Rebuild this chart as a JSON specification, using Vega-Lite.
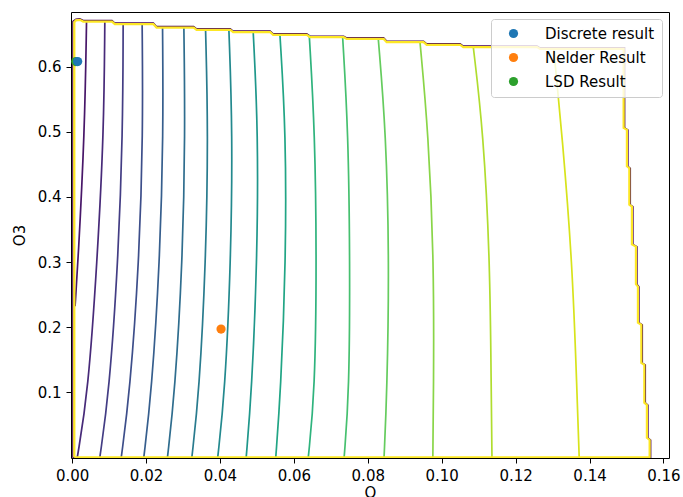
{
  "$schema": "https://vega.github.io/schema/vega-lite/v6.json",
  "width": 598,
  "height": 446,
  "autosize": {"type": "none"},
  "padding": {"left": 71, "top": 12, "right": 14, "bottom": 39},
  "config": {
    "font": "DejaVu Sans",
    "view": {"stroke": "#000000", "strokeWidth": 1},
    "axis": {"grid": false, "domain": false, "tickColor": "#000000", "tickSize": 5, "tickWidth": 1, "labelColor": "#000000", "labelFontSize": 15, "labelPadding": 5, "titleFontSize": 15, "titleFontWeight": "normal", "titleColor": "#000000"},
    "legend": {"orient": "top-right", "offset": 7, "padding": 7, "fillColor": "rgba(255,255,255,0.8)", "strokeColor": "#cccccc", "cornerRadius": 3, "labelFontSize": 15, "labelColor": "#000000", "symbolSize": 85, "symbolType": "circle", "symbolOffset": 8, "labelOffset": 24, "rowPadding": 8, "symbolStrokeWidth": 0}
  },
  "datasets": {
    "contours": [
      {"path": "c1", "level": 1, "i": 0, "x": 0.0008, "y": 0.232},
      {"path": "c1", "level": 1, "i": 1, "x": 0.0016, "y": 0.3},
      {"path": "c1", "level": 1, "i": 2, "x": 0.0034, "y": 0.5},
      {"path": "c1", "level": 1, "i": 3, "x": 0.0039, "y": 0.6693},
      {"path": "c2", "level": 2, "i": 0, "x": 0.0014, "y": 0},
      {"path": "c2", "level": 2, "i": 1, "x": 0.00433, "y": 0.1},
      {"path": "c2", "level": 2, "i": 2, "x": 0.00677, "y": 0.3},
      {"path": "c2", "level": 2, "i": 3, "x": 0.0086, "y": 0.5},
      {"path": "c2", "level": 2, "i": 4, "x": 0.00885, "y": 0.6693},
      {"path": "c3", "level": 3, "i": 0, "x": 0.0075, "y": 0},
      {"path": "c3", "level": 3, "i": 1, "x": 0.01002, "y": 0.1},
      {"path": "c3", "level": 3, "i": 2, "x": 0.01245, "y": 0.3},
      {"path": "c3", "level": 3, "i": 3, "x": 0.01372, "y": 0.5},
      {"path": "c3", "level": 3, "i": 4, "x": 0.01381, "y": 0.6653},
      {"path": "c4", "level": 4, "i": 0, "x": 0.0133, "y": 0},
      {"path": "c4", "level": 4, "i": 1, "x": 0.01562, "y": 0.1},
      {"path": "c4", "level": 4, "i": 2, "x": 0.01814, "y": 0.3},
      {"path": "c4", "level": 4, "i": 3, "x": 0.0192, "y": 0.5},
      {"path": "c4", "level": 4, "i": 4, "x": 0.01895, "y": 0.6653},
      {"path": "c5", "level": 5, "i": 0, "x": 0.0194, "y": 0},
      {"path": "c5", "level": 5, "i": 1, "x": 0.02149, "y": 0.1},
      {"path": "c5", "level": 5, "i": 2, "x": 0.02374, "y": 0.3},
      {"path": "c5", "level": 5, "i": 3, "x": 0.0247, "y": 0.5},
      {"path": "c5", "level": 5, "i": 4, "x": 0.02447, "y": 0.6601},
      {"path": "c6", "level": 6, "i": 0, "x": 0.0258, "y": 0},
      {"path": "c6", "level": 6, "i": 1, "x": 0.0278, "y": 0.1},
      {"path": "c6", "level": 6, "i": 2, "x": 0.02989, "y": 0.3},
      {"path": "c6", "level": 6, "i": 3, "x": 0.0306, "y": 0.5},
      {"path": "c6", "level": 6, "i": 4, "x": 0.03024, "y": 0.6601},
      {"path": "c7", "level": 7, "i": 0, "x": 0.0324, "y": 0},
      {"path": "c7", "level": 7, "i": 1, "x": 0.03438, "y": 0.1},
      {"path": "c7", "level": 7, "i": 2, "x": 0.03619, "y": 0.3},
      {"path": "c7", "level": 7, "i": 3, "x": 0.03682, "y": 0.5},
      {"path": "c7", "level": 7, "i": 4, "x": 0.03611, "y": 0.6565},
      {"path": "c8", "level": 8, "i": 0, "x": 0.0394, "y": 0},
      {"path": "c8", "level": 8, "i": 1, "x": 0.04134, "y": 0.1},
      {"path": "c8", "level": 8, "i": 2, "x": 0.04296, "y": 0.3},
      {"path": "c8", "level": 8, "i": 3, "x": 0.04342, "y": 0.5},
      {"path": "c8", "level": 8, "i": 4, "x": 0.04242, "y": 0.6565},
      {"path": "c9", "level": 9, "i": 0, "x": 0.0471, "y": 0},
      {"path": "c9", "level": 9, "i": 1, "x": 0.04857, "y": 0.1},
      {"path": "c9", "level": 9, "i": 2, "x": 0.05008, "y": 0.3},
      {"path": "c9", "level": 9, "i": 3, "x": 0.05035, "y": 0.5},
      {"path": "c9", "level": 9, "i": 4, "x": 0.049, "y": 0.653},
      {"path": "c10", "level": 10, "i": 0, "x": 0.0551, "y": 0},
      {"path": "c10", "level": 10, "i": 1, "x": 0.05642, "y": 0.1},
      {"path": "c10", "level": 10, "i": 2, "x": 0.05785, "y": 0.3},
      {"path": "c10", "level": 10, "i": 3, "x": 0.05785, "y": 0.5},
      {"path": "c10", "level": 10, "i": 4, "x": 0.05623, "y": 0.6488},
      {"path": "c11", "level": 11, "i": 0, "x": 0.0639, "y": 0},
      {"path": "c11", "level": 11, "i": 1, "x": 0.0657, "y": 0.1},
      {"path": "c11", "level": 11, "i": 2, "x": 0.06616, "y": 0.3},
      {"path": "c11", "level": 11, "i": 3, "x": 0.0657, "y": 0.5},
      {"path": "c11", "level": 11, "i": 4, "x": 0.06416, "y": 0.6488},
      {"path": "c12", "level": 12, "i": 0, "x": 0.0736, "y": 0},
      {"path": "c12", "level": 12, "i": 1, "x": 0.07499, "y": 0.1},
      {"path": "c12", "level": 12, "i": 2, "x": 0.07518, "y": 0.3},
      {"path": "c12", "level": 12, "i": 3, "x": 0.07472, "y": 0.5},
      {"path": "c12", "level": 12, "i": 4, "x": 0.0732, "y": 0.6453},
      {"path": "c13", "level": 13, "i": 0, "x": 0.0844, "y": 0},
      {"path": "c13", "level": 13, "i": 1, "x": 0.0852, "y": 0.1},
      {"path": "c13", "level": 13, "i": 2, "x": 0.08582, "y": 0.3},
      {"path": "c13", "level": 13, "i": 3, "x": 0.08492, "y": 0.5},
      {"path": "c13", "level": 13, "i": 4, "x": 0.08284, "y": 0.6427},
      {"path": "c14", "level": 14, "i": 0, "x": 0.0976, "y": 0},
      {"path": "c14", "level": 14, "i": 1, "x": 0.0978, "y": 0.1},
      {"path": "c14", "level": 14, "i": 2, "x": 0.09792, "y": 0.3},
      {"path": "c14", "level": 14, "i": 3, "x": 0.09637, "y": 0.5},
      {"path": "c14", "level": 14, "i": 4, "x": 0.09413, "y": 0.6376},
      {"path": "c15", "level": 15, "i": 0, "x": 0.1136, "y": 0},
      {"path": "c15", "level": 15, "i": 1, "x": 0.1134, "y": 0.1},
      {"path": "c15", "level": 15, "i": 2, "x": 0.11308, "y": 0.3},
      {"path": "c15", "level": 15, "i": 3, "x": 0.11126, "y": 0.5},
      {"path": "c15", "level": 15, "i": 4, "x": 0.10855, "y": 0.63},
      {"path": "c16", "level": 16, "i": 0, "x": 0.1372, "y": 0},
      {"path": "c16", "level": 16, "i": 1, "x": 0.1366, "y": 0.1},
      {"path": "c16", "level": 16, "i": 2, "x": 0.13536, "y": 0.3},
      {"path": "c16", "level": 16, "i": 3, "x": 0.13249, "y": 0.5},
      {"path": "c16", "level": 16, "i": 4, "x": 0.1311, "y": 0.58},
      {"path": "c16", "level": 16, "i": 5, "x": 0.1303, "y": 0.6273}
    ],
    "boundary": [
      {"path": "b0", "level": 0, "i": 0, "x": 0.0002, "y": -0.0008},
      {"path": "b0", "level": 0, "i": 1, "x": 0.15656, "y": -0.0008},
      {"path": "b0", "level": 0, "i": 2, "x": 0.15656, "y": 0.0267},
      {"path": "b0", "level": 0, "i": 3, "x": 0.15582, "y": 0.03},
      {"path": "b0", "level": 0, "i": 4, "x": 0.15582, "y": 0.0805},
      {"path": "b0", "level": 0, "i": 5, "x": 0.15512, "y": 0.084},
      {"path": "b0", "level": 0, "i": 6, "x": 0.15512, "y": 0.1419},
      {"path": "b0", "level": 0, "i": 7, "x": 0.15431, "y": 0.145},
      {"path": "b0", "level": 0, "i": 8, "x": 0.15431, "y": 0.2034},
      {"path": "b0", "level": 0, "i": 9, "x": 0.15339, "y": 0.207},
      {"path": "b0", "level": 0, "i": 10, "x": 0.15339, "y": 0.2622},
      {"path": "b0", "level": 0, "i": 11, "x": 0.15285, "y": 0.266},
      {"path": "b0", "level": 0, "i": 12, "x": 0.15285, "y": 0.3237},
      {"path": "b0", "level": 0, "i": 13, "x": 0.15176, "y": 0.327},
      {"path": "b0", "level": 0, "i": 14, "x": 0.15176, "y": 0.3851},
      {"path": "b0", "level": 0, "i": 15, "x": 0.15106, "y": 0.388},
      {"path": "b0", "level": 0, "i": 16, "x": 0.15106, "y": 0.4441},
      {"path": "b0", "level": 0, "i": 17, "x": 0.15041, "y": 0.447},
      {"path": "b0", "level": 0, "i": 18, "x": 0.15041, "y": 0.5029},
      {"path": "b0", "level": 0, "i": 19, "x": 0.14952, "y": 0.506},
      {"path": "b0", "level": 0, "i": 20, "x": 0.14952, "y": 0.6291},
      {"path": "b0", "level": 0, "i": 21, "x": 0.12661, "y": 0.6291},
      {"path": "b0", "level": 0, "i": 22, "x": 0.1258, "y": 0.6318},
      {"path": "b0", "level": 0, "i": 23, "x": 0.10585, "y": 0.6318},
      {"path": "b0", "level": 0, "i": 24, "x": 0.105, "y": 0.6353},
      {"path": "b0", "level": 0, "i": 25, "x": 0.09594, "y": 0.6353},
      {"path": "b0", "level": 0, "i": 26, "x": 0.0951, "y": 0.6394},
      {"path": "b0", "level": 0, "i": 27, "x": 0.08511, "y": 0.6394},
      {"path": "b0", "level": 0, "i": 28, "x": 0.0843, "y": 0.6445},
      {"path": "b0", "level": 0, "i": 29, "x": 0.07428, "y": 0.6445},
      {"path": "b0", "level": 0, "i": 30, "x": 0.0735, "y": 0.6471},
      {"path": "b0", "level": 0, "i": 31, "x": 0.06435, "y": 0.6471},
      {"path": "b0", "level": 0, "i": 32, "x": 0.0635, "y": 0.6506},
      {"path": "b0", "level": 0, "i": 33, "x": 0.05441, "y": 0.6506},
      {"path": "b0", "level": 0, "i": 34, "x": 0.0536, "y": 0.6548},
      {"path": "b0", "level": 0, "i": 35, "x": 0.04358, "y": 0.6548},
      {"path": "b0", "level": 0, "i": 36, "x": 0.0428, "y": 0.6583},
      {"path": "b0", "level": 0, "i": 37, "x": 0.03368, "y": 0.6583},
      {"path": "b0", "level": 0, "i": 38, "x": 0.0329, "y": 0.6619},
      {"path": "b0", "level": 0, "i": 39, "x": 0.02285, "y": 0.6619},
      {"path": "b0", "level": 0, "i": 40, "x": 0.022, "y": 0.6671},
      {"path": "b0", "level": 0, "i": 41, "x": 0.01156, "y": 0.6671},
      {"path": "b0", "level": 0, "i": 42, "x": 0.0108, "y": 0.6711},
      {"path": "b0", "level": 0, "i": 43, "x": 0.003, "y": 0.6711},
      {"path": "b0", "level": 0, "i": 44, "x": 0.0021, "y": 0.6737},
      {"path": "b0", "level": 0, "i": 45, "x": 0.001, "y": 0.673},
      {"path": "b0", "level": 0, "i": 46, "x": 0.0002, "y": 0.6698},
      {"path": "b0", "level": 0, "i": 47, "x": 0.0002, "y": -0.0008},
      {"path": "b17", "level": 17, "i": 0, "x": 0.0006, "y": 0},
      {"path": "b17", "level": 17, "i": 1, "x": 0.15626, "y": 0},
      {"path": "b17", "level": 17, "i": 2, "x": 0.15626, "y": 0.0267},
      {"path": "b17", "level": 17, "i": 3, "x": 0.15552, "y": 0.03},
      {"path": "b17", "level": 17, "i": 4, "x": 0.15552, "y": 0.0805},
      {"path": "b17", "level": 17, "i": 5, "x": 0.15482, "y": 0.084},
      {"path": "b17", "level": 17, "i": 6, "x": 0.15482, "y": 0.1419},
      {"path": "b17", "level": 17, "i": 7, "x": 0.15401, "y": 0.145},
      {"path": "b17", "level": 17, "i": 8, "x": 0.15401, "y": 0.2034},
      {"path": "b17", "level": 17, "i": 9, "x": 0.15309, "y": 0.207},
      {"path": "b17", "level": 17, "i": 10, "x": 0.15309, "y": 0.2622},
      {"path": "b17", "level": 17, "i": 11, "x": 0.15255, "y": 0.266},
      {"path": "b17", "level": 17, "i": 12, "x": 0.15255, "y": 0.3237},
      {"path": "b17", "level": 17, "i": 13, "x": 0.15146, "y": 0.327},
      {"path": "b17", "level": 17, "i": 14, "x": 0.15146, "y": 0.3851},
      {"path": "b17", "level": 17, "i": 15, "x": 0.15076, "y": 0.388},
      {"path": "b17", "level": 17, "i": 16, "x": 0.15076, "y": 0.4441},
      {"path": "b17", "level": 17, "i": 17, "x": 0.15011, "y": 0.447},
      {"path": "b17", "level": 17, "i": 18, "x": 0.15011, "y": 0.5029},
      {"path": "b17", "level": 17, "i": 19, "x": 0.14922, "y": 0.506},
      {"path": "b17", "level": 17, "i": 20, "x": 0.14922, "y": 0.6273},
      {"path": "b17", "level": 17, "i": 21, "x": 0.12661, "y": 0.6273},
      {"path": "b17", "level": 17, "i": 22, "x": 0.1258, "y": 0.63},
      {"path": "b17", "level": 17, "i": 23, "x": 0.10585, "y": 0.63},
      {"path": "b17", "level": 17, "i": 24, "x": 0.105, "y": 0.6335},
      {"path": "b17", "level": 17, "i": 25, "x": 0.09594, "y": 0.6335},
      {"path": "b17", "level": 17, "i": 26, "x": 0.0951, "y": 0.6376},
      {"path": "b17", "level": 17, "i": 27, "x": 0.08511, "y": 0.6376},
      {"path": "b17", "level": 17, "i": 28, "x": 0.0843, "y": 0.6427},
      {"path": "b17", "level": 17, "i": 29, "x": 0.07428, "y": 0.6427},
      {"path": "b17", "level": 17, "i": 30, "x": 0.0735, "y": 0.6453},
      {"path": "b17", "level": 17, "i": 31, "x": 0.06435, "y": 0.6453},
      {"path": "b17", "level": 17, "i": 32, "x": 0.0635, "y": 0.6488},
      {"path": "b17", "level": 17, "i": 33, "x": 0.05441, "y": 0.6488},
      {"path": "b17", "level": 17, "i": 34, "x": 0.0536, "y": 0.653},
      {"path": "b17", "level": 17, "i": 35, "x": 0.04358, "y": 0.653},
      {"path": "b17", "level": 17, "i": 36, "x": 0.0428, "y": 0.6565},
      {"path": "b17", "level": 17, "i": 37, "x": 0.03368, "y": 0.6565},
      {"path": "b17", "level": 17, "i": 38, "x": 0.0329, "y": 0.6601},
      {"path": "b17", "level": 17, "i": 39, "x": 0.02285, "y": 0.6601},
      {"path": "b17", "level": 17, "i": 40, "x": 0.022, "y": 0.6653},
      {"path": "b17", "level": 17, "i": 41, "x": 0.01156, "y": 0.6653},
      {"path": "b17", "level": 17, "i": 42, "x": 0.0108, "y": 0.6693},
      {"path": "b17", "level": 17, "i": 43, "x": 0.003, "y": 0.6693},
      {"path": "b17", "level": 17, "i": 44, "x": 0.0021, "y": 0.6719},
      {"path": "b17", "level": 17, "i": 45, "x": 0.001, "y": 0.6712},
      {"path": "b17", "level": 17, "i": 46, "x": 0.0006, "y": 0.668},
      {"path": "b17", "level": 17, "i": 47, "x": 0.0006, "y": 0}
    ],
    "results": [
      {"name": "LSD Result", "x": 0.001, "y": 0.6078},
      {"name": "Nelder Result", "x": 0.0403, "y": 0.197},
      {"name": "Discrete result", "x": 0.0015, "y": 0.6078}
    ]
  },
  "layer": [
    {
      "data": {"name": "boundary"},
      "transform": [{"filter": "datum.level == 0"}],
      "mark": {"type": "line", "clip": true, "strokeWidth": 1.3, "interpolate": "linear"},
      "encoding": {
        "x": {"field": "x", "type": "quantitative", "scale": {"domain": [-0.0003, 0.1615], "nice": false, "zero": false}, "axis": {"values": [0, 0.02, 0.04, 0.06, 0.08, 0.1, 0.12, 0.14, 0.16], "format": ".2f", "title": "O", "titlePadding": 2}},
        "y": {"field": "y", "type": "quantitative", "scale": {"domain": [-0.001, 0.684], "nice": false, "zero": false}, "axis": {"values": [0.1, 0.2, 0.3, 0.4, 0.5, 0.6], "format": ".1f", "title": "O3", "titlePadding": 10}},
        "detail": {"field": "path", "type": "nominal"},
        "order": {"field": "i", "type": "quantitative"},
        "color": {"field": "level", "type": "quantitative", "scale": {"scheme": "viridis", "domain": [0, 17]}, "legend": null}
      }
    },
    {
      "data": {"name": "contours"},
      "mark": {"type": "line", "clip": true, "strokeWidth": 1.7, "interpolate": "basis"},
      "encoding": {
        "x": {"field": "x", "type": "quantitative", "scale": {"domain": [-0.0003, 0.1615], "nice": false, "zero": false}, "axis": {"values": [0, 0.02, 0.04, 0.06, 0.08, 0.1, 0.12, 0.14, 0.16], "format": ".2f", "title": "O", "titlePadding": 2}},
        "y": {"field": "y", "type": "quantitative", "scale": {"domain": [-0.001, 0.684], "nice": false, "zero": false}, "axis": {"values": [0.1, 0.2, 0.3, 0.4, 0.5, 0.6], "format": ".1f", "title": "O3", "titlePadding": 10}},
        "detail": {"field": "path", "type": "nominal"},
        "order": {"field": "i", "type": "quantitative"},
        "color": {"field": "level", "type": "quantitative", "scale": {"scheme": "viridis", "domain": [0, 17]}, "legend": null}
      }
    },
    {
      "data": {"name": "boundary"},
      "transform": [{"filter": "datum.level == 17"}],
      "mark": {"type": "line", "clip": true, "strokeWidth": 2.2, "interpolate": "linear"},
      "encoding": {
        "x": {"field": "x", "type": "quantitative", "scale": {"domain": [-0.0003, 0.1615], "nice": false, "zero": false}, "axis": {"values": [0, 0.02, 0.04, 0.06, 0.08, 0.1, 0.12, 0.14, 0.16], "format": ".2f", "title": "O", "titlePadding": 2}},
        "y": {"field": "y", "type": "quantitative", "scale": {"domain": [-0.001, 0.684], "nice": false, "zero": false}, "axis": {"values": [0.1, 0.2, 0.3, 0.4, 0.5, 0.6], "format": ".1f", "title": "O3", "titlePadding": 10}},
        "detail": {"field": "path", "type": "nominal"},
        "order": {"field": "i", "type": "quantitative"},
        "color": {"field": "level", "type": "quantitative", "scale": {"scheme": "viridis", "domain": [0, 17]}, "legend": null}
      }
    },
    {
      "data": {"name": "results"},
      "mark": {"type": "circle", "clip": true, "size": 85, "opacity": 1},
      "encoding": {
        "x": {"field": "x", "type": "quantitative", "scale": {"domain": [-0.0003, 0.1615], "nice": false, "zero": false}, "axis": {"values": [0, 0.02, 0.04, 0.06, 0.08, 0.1, 0.12, 0.14, 0.16], "format": ".2f", "title": "O", "titlePadding": 2}},
        "y": {"field": "y", "type": "quantitative", "scale": {"domain": [-0.001, 0.684], "nice": false, "zero": false}, "axis": {"values": [0.1, 0.2, 0.3, 0.4, 0.5, 0.6], "format": ".1f", "title": "O3", "titlePadding": 10}},
        "color": {"field": "name", "type": "nominal", "scale": {"domain": ["Discrete result", "Nelder Result", "LSD Result"], "range": ["#1f77b4", "#ff7f0e", "#2ca02c"]}, "legend": {"title": null}}
      }
    }
  ],
  "resolve": {"scale": {"color": "independent"}, "legend": {"color": "independent"}}
}
